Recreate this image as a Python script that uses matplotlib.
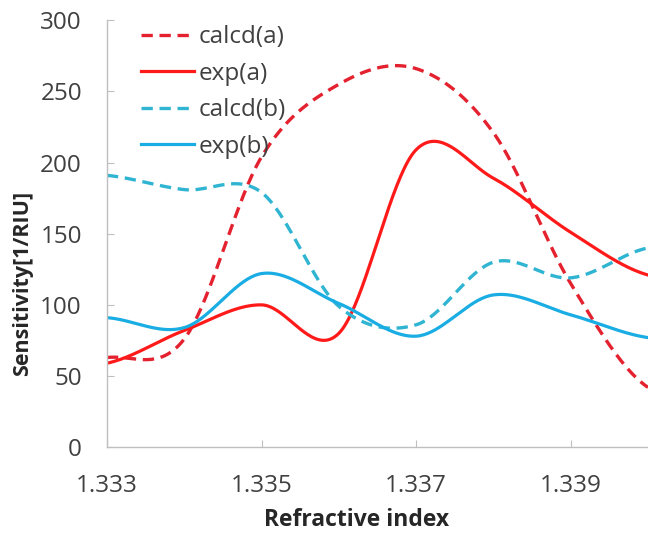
import numpy as np
import matplotlib
matplotlib.use('Agg')
import matplotlib.pyplot as plt

plt.rcParams['font.family'] = ['Open Sans', 'DejaVu Sans']

# data
ri = [1.333, 1.334, 1.335, 1.336, 1.337, 1.338, 1.339, 1.340]
calcd_a = [63, 76, 204, 255, 266, 221, 115, 42]
exp_a = [59, 82, 100, 80, 209, 189, 151, 121]
calcd_b = [191, 181, 179, 99, 86, 130, 119, 140]
exp_b = [91, 84, 122, 101, 78, 107, 93, 77]
xticks = [1.333, 1.335, 1.337, 1.339]


def smooth(x, y, n=40):
    '''catmull-rom curve through the points, like excel smoothed lines'''
    x = np.asarray(x, float)
    y = np.asarray(y, float)
    m = np.empty_like(y)
    m[1:-1] = (y[2:] - y[:-2]) / 2
    m[0] = (y[1] - y[0]) / 2
    m[-1] = (y[-1] - y[-2]) / 2
    xs, ys = [], []
    for i in range(len(x) - 1):
        t = np.linspace(0, 1, n, endpoint=False)
        h00 = 2*t**3 - 3*t**2 + 1
        h10 = t**3 - 2*t**2 + t
        h01 = -2*t**3 + 3*t**2
        h11 = t**3 - t**2
        ys.append(h00*y[i] + h10*m[i] + h01*y[i+1] + h11*m[i+1])
        xs.append(x[i] + t*(x[i+1] - x[i]))
    xs.append([x[-1]])
    ys.append([y[-1]])
    return np.concatenate(xs), np.concatenate(ys)


fig = plt.figure(figsize=(6.48, 5.33), dpi=100)
ax = fig.add_axes([0.165, 0.161, 0.835, 0.801])

red = '#ff1a1a'
red_d = '#e4212e'
cyan = '#19ade3'
cyan_d = '#2fb4d2'

ax.plot(*smooth(ri, calcd_a), color=red_d, lw=2.4, ls=(0, (3.4, 2.0)), label='calcd(a)')
ax.plot(*smooth(ri, exp_a), color=red, lw=2.3, label='exp(a)')
ax.plot(*smooth(ri, calcd_b), color=cyan_d, lw=2.4, ls=(0, (3.4, 2.0)), label='calcd(b)')
ax.plot(*smooth(ri, exp_b), color=cyan, lw=2.3, label='exp(b)')

ax.set_xlim(1.333, 1.340)
ax.set_ylim(0, 300)
ax.set_xticks(xticks)
ax.set_xticklabels(['%.3f' % v for v in xticks])
ax.set_yticks(range(0, 301, 50))

for s in ['top', 'right']:
    ax.spines[s].set_visible(False)
for s in ['left', 'bottom']:
    ax.spines[s].set_color('#bfbfbf')
    ax.spines[s].set_linewidth(1.0)
ax.tick_params(axis='both', direction='in', length=5, color='#bfbfbf',
               labelsize=17.5, labelcolor='#404040')
ax.tick_params(axis='y', pad=18)
ax.tick_params(axis='x', pad=19)

ax.set_xlabel('Refractive index', fontsize=16.5, fontweight='bold', color='#262626', va='center')
ax.set_ylabel('Sensitivity[1/RIU]', fontsize=15.5, fontweight='bold', color='#262626', va='center')
ax.xaxis.set_label_coords(0.462, -0.171)
ax.yaxis.set_label_coords(-0.155, 0.384)

leg = ax.legend(loc='upper left', bbox_to_anchor=(0.022, 1.04), frameon=False,
                fontsize=17.5, handlelength=2.2, handletextpad=0.2, labelspacing=0.52)
for t in leg.get_texts():
    t.set_color('#404040')

plt.savefig('out.png', dpi=100)
